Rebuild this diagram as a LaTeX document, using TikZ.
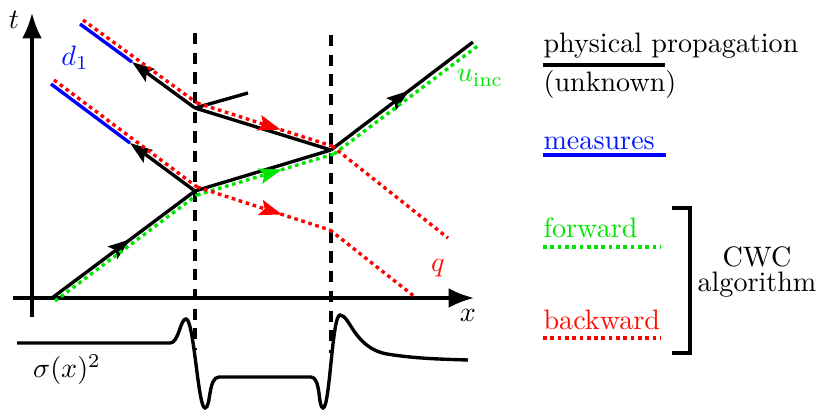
\documentclass[tikz,border=0pt]{standalone}
\usepackage{amsmath,amssymb}
\usepackage{tikz}
\usetikzlibrary{arrows.meta,positioning,calc,decorations.markings}

\tikzset{
  ray/.style={line width=1.2pt},
  fwd/.style={line width=1.2pt, green!90!black, dash pattern=on 1.3pt off 1.3pt},
  bwd/.style={line width=1.2pt, red, dash pattern=on 1.3pt off 1.3pt},
  interface/.style={line width=1.1pt, dash pattern=on 4pt off 3pt},
  tip/.style={Stealth[length=8pt,width=5.5pt,inset=1.5pt]},
  midarrow/.style 2 args={postaction={decorate, decoration={markings,
      mark=at position #1 with {\arrow[#2,solid]{Stealth[length=8pt,width=5.5pt,inset=1.5pt]}}}}},
}

\begin{document}
\begin{tikzpicture}[x=1.25cm, y=1.25cm, every node/.style={font=\normalsize}]
\useasboundingbox (-0.32,-1.13) rectangle (7.96,2.98);

% axes
\draw[line width=1.1pt, -{Latex[length=9pt,width=7pt]}] (-0.19,0) -- (4.42,0);
\draw[line width=1.1pt, -{Latex[length=9pt,width=7pt]}] (0,-0.19) -- (0,2.85);
\node (tlab) at (-0.18,2.78) {$t$};
\node (xlab) at (4.36,-0.17) {$x$};

% interfaces
\draw[interface] (1.63,2.65) -- (1.63,-0.52);
\draw[interface] (2.99,2.63) -- (2.99,-0.55);

% points of the physical propagation
\coordinate (S) at (0.20,0);
\coordinate (A) at (1.63,1.07);
\coordinate (B) at (2.99,1.48);
\coordinate (C) at (1.63,1.90);
\coordinate (T) at (4.41,2.56);
\coordinate (M1) at (1.00,2.36);
\coordinate (M2) at (0.98,1.55);
\coordinate (stub) at (2.16,2.05);

% measures
\draw[blue, line width=1.2pt] (0.48,2.74) -- (M1);
\draw[blue, line width=1.2pt] (0.19,2.14) -- (M2);

% physical propagation
\draw[ray, midarrow={0.55}{black}] (S) -- (A);
\draw[ray] (A) -- (B);
\draw[ray, midarrow={0.55}{black}] (B) -- (T);
\draw[ray, -{Stealth[length=8pt,width=5.5pt,inset=1.5pt]}] (A) -- (M2);
\draw[ray, -{Stealth[length=8pt,width=5.5pt,inset=1.5pt]}] (C) -- (M1);
\draw[ray] (C) -- (B);
\draw[ray] (C) -- (stub);

% forward (CWC)
\draw[fwd] (0.23,-0.03) -- (1.65,1.03);
\draw[fwd, midarrow={0.62}{green!90!black}] (1.65,1.03) -- (3.02,1.44);
\draw[fwd] (3.02,1.44) -- (4.47,2.53);

% backward (CWC)
\draw[bwd] (0.51,2.78) -- (1.65,1.95);
\draw[bwd, midarrow={0.62}{red}] (1.65,1.95) -- (3.00,1.52);
\draw[bwd] (3.00,1.52) -- (4.16,0.60);
\draw[bwd] (0.22,2.18) -- (1.65,1.11);
\draw[bwd, midarrow={0.64}{red}] (1.65,1.11) -- (2.98,0.68);
\draw[bwd] (2.98,0.68) -- (3.83,0.01);

\node[blue!90!cyan] (dlab) at (0.43,2.40) {$d_1$};
\node[green!90!black] (ulab) at (4.48,2.20) {$u_{\text{inc}}$};
\node[red!90!orange] (qlab) at (4.06,0.30) {$q$};

% sigma^2
\draw[line width=1.2pt] (-0.15,-0.45) -- (1.38,-0.45)
  .. controls (1.47,-0.45) and (1.48,-0.21) .. (1.54,-0.21)
  .. controls (1.62,-0.21) and (1.66,-1.10) .. (1.73,-1.10)
  .. controls (1.79,-1.10) and (1.76,-0.79) .. (1.87,-0.79) -- (2.79,-0.79)
  .. controls (2.89,-0.79) and (2.86,-1.10) .. (2.91,-1.10)
  .. controls (2.98,-1.10) and (3.00,-0.17) .. (3.08,-0.17)
  .. controls (3.18,-0.17) and (3.22,-0.50) .. (3.55,-0.56)
  .. controls (3.80,-0.60) and (4.00,-0.61) .. (4.36,-0.62);
\node (siglab) at (0.35,-0.72) {$\sigma(x)^2$};

% legend
\node[anchor=base west, inner sep=0pt] (physlab) at (5.11,2.45) {physical propagation};
\node[anchor=base west, inner sep=0pt] (unklab) at (5.11,2.06) {(unknown)};
\draw[line width=1.2pt] (5.11,2.33) -- (6.33,2.33);
\node[anchor=base west, inner sep=0pt, blue!90!cyan] (measlab) at (5.11,1.48) {measures};
\draw[blue, line width=1.2pt] (5.11,1.43) -- (6.34,1.43);
\node[anchor=base west, inner sep=0pt, green!90!black] (fwdlab) at (5.11,0.60) {forward};
\draw[fwd] (5.11,0.51) -- (6.28,0.51);
\node[anchor=base west, inner sep=0pt, red!90!orange] (bwdlab) at (5.11,-0.32) {backward};
\draw[bwd] (5.11,-0.40) -- (6.28,-0.40);
\draw[line width=1.2pt] (6.40,0.90) -- (6.58,0.90) -- (6.58,-0.55) -- (6.40,-0.55);
\node[anchor=base] (cwclab) at (7.25,0.31) {CWC};
\node[anchor=base] (alglab) at (7.25,0.06) {algorithm};

\end{tikzpicture}
\end{document}
